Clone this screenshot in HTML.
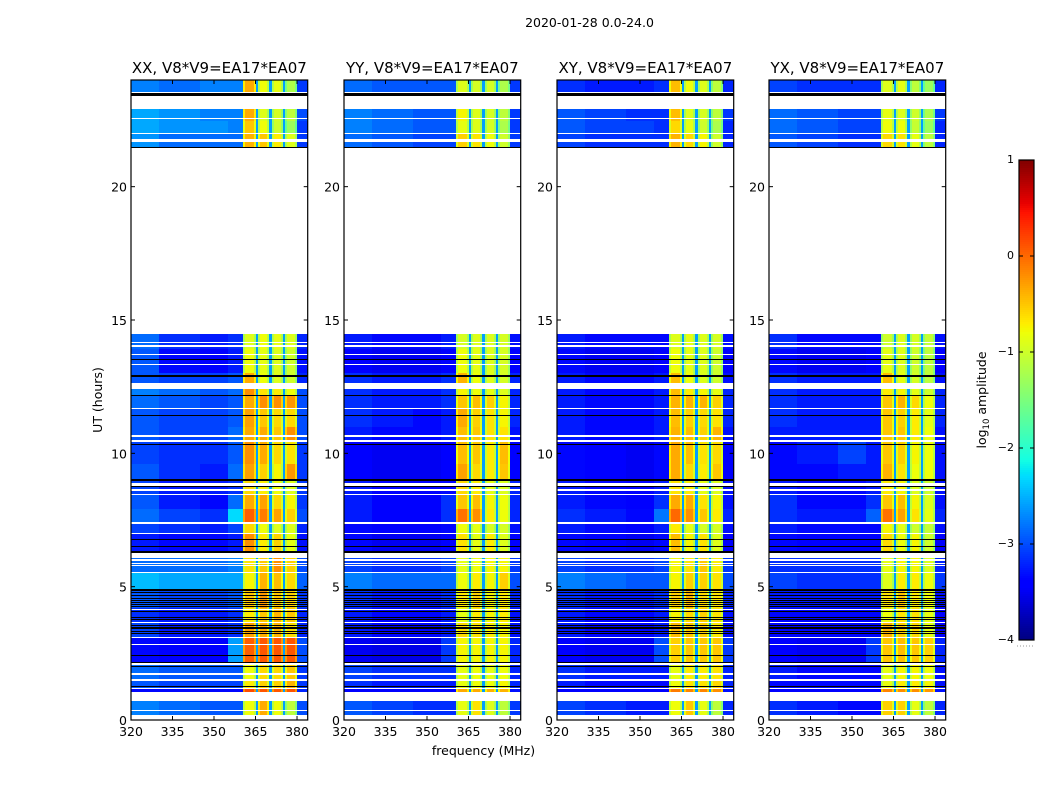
<!DOCTYPE html>
<html lang="en">
<head>
<meta charset="utf-8">
<title>2020-01-28 0.0-24.0</title>
<style>
html,body{margin:0;padding:0;background:#fff;}
svg{display:block;font-family:"DejaVu Sans","Liberation Sans",sans-serif;fill:#000;}
</style>
</head>
<body>
<svg id="chart" width="1050" height="800" viewBox="0 0 1050 800" xmlns="http://www.w3.org/2000/svg">
  <rect width="1050" height="800" fill="#fff"/>
  <text x="589.5" y="27" font-size="12.5" text-anchor="middle">2020-01-28 0.0-24.0</text>
  <text x="483.5" y="755" font-size="12.5" text-anchor="middle">frequency (MHz)</text>
  <text transform="translate(102,400) rotate(-90)" font-size="12.5" text-anchor="middle">UT (hours)</text>
  <text transform="translate(986,400) rotate(-90)" font-size="12.5" text-anchor="middle">log<tspan font-size="8.5" dy="3">10</tspan><tspan dy="-3"> amplitude</tspan></text>
  <g id="panels"></g>
  <g id="colorbar"></g>
</svg>
<script>
// ---- chart data (UT in hours, frequency in MHz, values are log10 amplitude) ----
const panelTitles = ["XX, V8*V9=EA17*EA07", "YY, V8*V9=EA17*EA07", "XY, V8*V9=EA17*EA07", "YX, V8*V9=EA17*EA07"];
const xTickLabels = [320, 335, 350, 365, 380];
const yTickLabels = [0, 5, 10, 15, 20];
const colorTickLabels = [-4, -3, -2, -1, 0, 1];

const lowFreqEdges = [320, 330, 345, 355, 360.5];
const windowStart = [360.5, 365.9, 370.8, 375.7];
const windowEnd = [365.1, 370, 374.9, 380];
const rightFreqEnd = 384;
const gapValue = -2.6;
const windowEdgeDrop = 0.35;

const rowStart = [23.4, 22.47, 21.96, 21.45, 13.9, 13.0, 12.6, 12.15, 11.67, 11.0, 10.5, 9.6, 9.0, 8.42, 7.9, 7.44, 7.0, 6.28, 5.5, 4.9, 4.2, 3.65, 3.06, 2.05, 1.5, 1.2, 1.05, 0.19];
const rowEnd = [24, 22.93, 22.47, 21.96, 14.48, 13.9, 13.0, 12.41, 12.15, 11.67, 11.0, 10.5, 9.6, 9.0, 8.42, 7.9, 7.44, 7.0, 6.09, 5.5, 4.9, 4.2, 3.65, 3.06, 2.05, 1.5, 1.2, 0.71];

// each row: four low-frequency columns, four spectral windows, right edge
const xxRows = [
[-2.75,-2.85,-2.75,-2.75,-.35,-.8,-.85,-1.2,-3.1],
[-2.55,-2.65,-2.75,-2.75,-.35,-.9,-.95,-1.1,-3],
[-2.55,-2.65,-2.65,-2.75,-.5,-.8,-1,-1.3,-3.1],
[-2.65,-2.85,-2.85,-2.85,-.4,-.5,-.7,-.9,-3.1],
[-2.85,-3.15,-3.25,-3.15,-.9,-.8,-.85,-.9,-3.2],
[-2.95,-3.35,-3.45,-3.25,-.8,-.85,-.9,-1,-3.3],
[-2.95,-3.05,-3.05,-2.95,-.35,-.8,-.9,-1,-3.2],
[-2.75,-2.85,-2.95,-2.85,-.2,-.65,-.7,-.8,-3],
[-2.85,-2.95,-3.05,-2.95,-.35,-.2,-.2,-.25,-3],
[-2.95,-3.05,-3.05,-2.95,-.3,-.5,-.6,-.6,-3],
[-2.95,-3.05,-3.05,-2.85,-.35,-.35,-.5,-.2,-3],
[-3.05,-3.15,-3.15,-2.95,-.2,-.35,-.6,-.65,-3.1],
[-2.95,-3.15,-3.25,-2.85,-.3,-.55,-.75,-.25,-3.1],
[-3.05,-3.25,-3.25,-3.15,-.6,-.7,-.8,-.9,-3.1],
[-2.95,-3.25,-3.35,-2.85,-.35,-.3,-.6,-.75,-3.1],
[-2.85,-3.05,-3.15,-2.3,.05,-.1,-.3,-.55,-3],
[-3.05,-3.15,-3.25,-3.05,-.6,-.8,-.9,-.9,-3.2],
[-3.25,-3.35,-3.35,-3.25,-.2,-.7,-.55,-.85,-3.3],
[-2.85,-2.85,-2.85,-2.75,-.65,-.5,-.2,-.55,-3],
[-2.45,-2.55,-2.55,-2.55,-.75,-.4,-.45,-.6,-2.9],
[-2.95,-3.05,-3.05,-2.95,-.5,-.25,-.5,-.55,-3.1],
[-3.15,-3.25,-3.25,-3.15,-.7,-.5,-.4,-.5,-3.2],
[-3.05,-3.25,-3.25,-3.15,-.3,-.35,-.4,-.6,-3.2],
[-3.35,-3.45,-3.45,-2.6,.05,.1,.1,.1,-3],
[-2.85,-2.95,-2.95,-2.95,-.8,-.6,-.6,-.5,-3.1],
[-2.95,-3.05,-3.05,-3.05,-.7,-.55,-.55,-.4,-3.1],
[-3.35,-3.35,-3.35,-3.35,.15,.1,.1,.1,-3.2],
[-2.75,-2.85,-2.95,-2.95,-.8,-.35,-.8,-1.1,-3]
];
const yyRows = [
[-2.85,-2.95,-2.95,-2.95,-.9,-.95,-.95,-1.2,-3.1],
[-2.75,-2.85,-2.95,-2.95,-.75,-.9,-.95,-1.1,-3.1],
[-2.75,-2.85,-2.95,-2.95,-.85,-.9,-.95,-1.2,-3.1],
[-2.85,-2.95,-3.05,-3.05,-.55,-.65,-.8,-1,-3.1],
[-3.25,-3.35,-3.35,-3.25,-.95,-.9,-.9,-.95,-3.3],
[-3.45,-3.5,-3.5,-3.45,-.8,-.85,-.9,-.95,-3.4],
[-3.15,-3.25,-3.25,-3.15,-.4,-.8,-.9,-.95,-3.2],
[-3.15,-3.25,-3.25,-3.15,-.75,-.8,-.85,-.9,-3.2],
[-3.15,-3.25,-3.25,-3.15,-.5,-.45,-.55,-.75,-3.2],
[-3.15,-3.25,-3.35,-3.25,-.35,-.55,-.65,-.75,-3.2],
[-3.25,-3.35,-3.35,-3.25,-.45,-.5,-.65,-.65,-3.3],
[-3.45,-3.5,-3.5,-3.45,-.45,-.5,-.7,-.45,-3.4],
[-3.45,-3.5,-3.5,-3.45,-.3,-.6,-.7,-.5,-3.4],
[-3.25,-3.45,-3.45,-3.35,-.6,-.7,-.85,-.9,-3.2],
[-3.25,-3.45,-3.45,-3.15,-.5,-.45,-.75,-.8,-3.2],
[-3.25,-3.45,-3.45,-3.15,-.05,-.2,-.7,-.8,-3.2],
[-3.35,-3.45,-3.45,-3.35,-.8,-.85,-.95,-.95,-3.3],
[-3.35,-3.5,-3.5,-3.45,-.65,-.85,-.7,-.9,-3.4],
[-3.05,-3.15,-3.15,-3.05,-.85,-.8,-.75,-.75,-3.1],
[-2.75,-2.85,-2.85,-2.85,-.8,-.7,-.75,-.55,-3],
[-3.15,-3.25,-3.25,-3.15,-.7,-.55,-.75,-.7,-3.2],
[-3.25,-3.35,-3.35,-3.25,-.85,-.7,-.75,-.7,-3.3],
[-3.25,-3.35,-3.35,-3.25,-.6,-.65,-.7,-.75,-3.3],
[-3.5,-3.55,-3.55,-3.1,-.75,-.75,-.75,-.75,-3.2],
[-3.05,-3.15,-3.15,-3.15,-.85,-.8,-.85,-.8,-3.2],
[-3.15,-3.25,-3.25,-3.25,-.85,-.8,-.8,-.75,-3.2],
[-3.45,-3.45,-3.45,-3.45,-.35,-.35,-.4,-.4,-3.3],
[-2.95,-3.05,-3.15,-3.15,-.85,-.65,-.9,-1.1,-3.1]
];
const xyRows = [
[-3.15,-3.25,-3.25,-3.15,-.45,-.8,-.9,-1.1,-3.2],
[-2.95,-3.05,-3.15,-3.15,-.45,-.9,-.95,-1.1,-3.1],
[-2.95,-3.05,-3.05,-3.15,-.6,-.85,-1,-1.2,-3.2],
[-3.05,-3.15,-3.15,-3.15,-.4,-.6,-.75,-1,-3.2],
[-3.25,-3.35,-3.35,-3.35,-.9,-.85,-.9,-.95,-3.3],
[-3.35,-3.5,-3.5,-3.45,-.8,-.85,-.9,-1,-3.4],
[-3.25,-3.35,-3.35,-3.25,-.45,-.8,-.9,-1,-3.3],
[-3.25,-3.35,-3.35,-3.25,-.45,-.7,-.75,-.85,-3.2],
[-3.25,-3.35,-3.35,-3.25,-.4,-.4,-.4,-.55,-3.2],
[-3.25,-3.35,-3.35,-3.25,-.45,-.55,-.6,-.65,-3.2],
[-3.25,-3.35,-3.35,-3.25,-.4,-.45,-.55,-.4,-3.3],
[-3.35,-3.45,-3.5,-3.35,-.35,-.45,-.65,-.6,-3.4],
[-3.35,-3.45,-3.5,-3.35,-.35,-.6,-.7,-.5,-3.4],
[-3.25,-3.35,-3.45,-3.25,-.65,-.7,-.85,-.9,-3.3],
[-3.25,-3.35,-3.45,-3.15,-.35,-.35,-.65,-.75,-3.3],
[-3.15,-3.25,-3.35,-2.8,0,-.2,-.5,-.7,-3.2],
[-3.25,-3.35,-3.45,-3.25,-.7,-.85,-.95,-.95,-3.3],
[-3.35,-3.45,-3.5,-3.35,-.45,-.75,-.65,-.9,-3.4],
[-3.05,-3.15,-3.15,-3.05,-.75,-.65,-.5,-.7,-3.1],
[-2.75,-2.85,-2.95,-2.95,-.75,-.55,-.55,-.65,-3],
[-3.15,-3.25,-3.25,-3.15,-.55,-.4,-.6,-.65,-3.2],
[-3.25,-3.35,-3.35,-3.25,-.75,-.6,-.55,-.65,-3.3],
[-3.25,-3.35,-3.35,-3.25,-.45,-.5,-.55,-.7,-3.3],
[-3.45,-3.5,-3.5,-3,-.55,-.5,-.5,-.5,-3.1],
[-3.15,-3.25,-3.25,-3.25,-.85,-.7,-.7,-.65,-3.2],
[-3.25,-3.35,-3.35,-3.35,-.8,-.65,-.65,-.6,-3.2],
[-3.45,-3.45,-3.45,-3.45,-.1,-.15,-.15,-.2,-3.3],
[-3.05,-3.15,-3.25,-3.25,-.8,-.5,-.85,-1.1,-3.2]
];
const yxRows = [
[-3.05,-3.15,-3.15,-3.15,-.9,-.85,-1.1,-1.3,-3.2],
[-2.85,-2.95,-3.05,-3.05,-.85,-.9,-1,-1.2,-3.1],
[-2.85,-2.95,-3.05,-3.05,-.8,-.8,-1.05,-1.3,-3.2],
[-2.95,-3.05,-3.15,-3.15,-.6,-.65,-.85,-1.1,-3.2],
[-3.15,-3.35,-3.35,-3.35,-1,-.9,-.95,-1.05,-3.3],
[-3.35,-3.5,-3.5,-3.45,-.85,-.9,-1,-1.1,-3.4],
[-3.15,-3.25,-3.25,-3.25,-.45,-.85,-.95,-1.1,-3.3],
[-3.15,-3.25,-3.25,-3.25,-.7,-.75,-.85,-1,-3.2],
[-3.15,-3.25,-3.25,-3.25,-.5,-.4,-.6,-.8,-3.2],
[-3.15,-3.25,-3.25,-3.25,-.5,-.55,-.7,-.85,-3.2],
[-3.25,-3.25,-3.25,-3.25,-.5,-.5,-.7,-.8,-3.3],
[-3.35,-3.25,-3.05,-3.25,-.5,-.55,-.75,-.8,-3.3],
[-3.35,-3.35,-3.25,-3.25,-.4,-.65,-.8,-.8,-3.3],
[-3.25,-3.35,-3.35,-3.25,-.7,-.75,-.9,-1,-3.3],
[-3.15,-3.35,-3.35,-3.15,-.5,-.45,-.75,-.9,-3.3],
[-3.15,-3.25,-3.25,-2.9,-.05,-.3,-.65,-.85,-3.2],
[-3.25,-3.35,-3.35,-3.35,-.75,-.85,-1,-1.05,-3.3],
[-3.35,-3.45,-3.45,-3.45,-.6,-.8,-.75,-1,-3.4],
[-3.15,-3.15,-3.15,-3.15,-.85,-.75,-.75,-.9,-3.2],
[-3.05,-3.15,-3.15,-3.15,-.9,-.7,-.7,-.8,-3.1],
[-3.25,-3.25,-3.25,-3.25,-.65,-.5,-.7,-.8,-3.3],
[-3.35,-3.35,-3.35,-3.35,-.8,-.65,-.65,-.85,-3.4],
[-3.35,-3.35,-3.35,-3.35,-.4,-.55,-.6,-.85,-3.4],
[-3.45,-3.5,-3.5,-3.1,-.5,-.45,-.5,-.55,-3.2],
[-3.25,-3.35,-3.35,-3.35,-.85,-.75,-.75,-.8,-3.3],
[-3.35,-3.35,-3.35,-3.35,-.85,-.7,-.7,-.75,-3.3],
[-3.45,-3.45,-3.45,-3.45,-.15,-.2,-.2,-.25,-3.3],
[-3.15,-3.25,-3.35,-3.35,-.55,-.55,-.85,-1.1,-3.2]
];

// times with no data (white)
const gapStart = [23.52,22.52,21.96,21.72,21.66,14.48,14.14,14.0,13.69,13.31,12.41,11.67,10.63,10.43,8.79,8.58,8.42,7.34,6.97,6.09,5.97,5.84,5.76,5.5,4.12,3.63,3.06,2.81,2.06,1.7,1.46,1.16,0.71,0.34,0];
const gapEnd = [23.56,22.57,22.01,21.77,21.7,21.45,14.18,14.06,13.73,13.35,12.62,11.7,10.67,10.5,8.9,8.67,8.49,7.44,7.01,6.28,6.03,5.88,5.8,5.54,4.18,3.68,3.13,2.85,2.13,1.75,1.53,1.2,1.05,0.38,0.19];
// heavily flagged times (black)
const flagStart = [23.41,21.45,13.5,12.87,12.15,11.42,10.31,8.96,8.74,6.75,6.48,6.28,4.85,4.775,4.64,4.55,4.475,4.4,4.31,4.24,4.05,3.825,3.75,3.525,3.46,3.41,3.32,3.24,2.4,2.13,1.97,1.24];
const flagEnd = [23.5,21.49,13.53,12.94,12.18,11.45,10.35,9.04,8.79,6.79,6.53,6.34,4.9,4.8,4.68,4.575,4.5,4.425,4.35,4.275,4.09,3.86,3.79,3.56,3.5,3.45,3.35,3.27,2.44,2.17,2.01,1.28];

// ---- axis geometry and scales ----
const panelLeft = [131, 344, 557, 769];
const panelWidth = 176.7;
const plotTop = 80, plotBottom = 720;
const utMax = 24, freqMin = 320, pxPerMHz = 2.767;
const cbLeft = 1019, cbWidth = 15, cbTop = 160, cbBottom = 640;
const cbMin = -4, cbMax = 1;

const SVGNS = "http://www.w3.org/2000/svg";
const panelsRoot = document.getElementById("panels");
const cbRoot = document.getElementById("colorbar");

function xScale(freq, left) { return left + (freq - freqMin) * pxPerMHz; }
function yScale(ut) { return plotBottom - (ut / utMax) * (plotBottom - plotTop); }
function cbScale(v) { return cbBottom - ((v - cbMin) / (cbMax - cbMin)) * (cbBottom - cbTop); }

function lerpStops(t, stops) {
  for (let i = 1; i < stops.length; i++) {
    if (t <= stops[i][0]) {
      const a = stops[i - 1], b = stops[i];
      return a[1] + (b[1] - a[1]) * (t - a[0]) / (b[0] - a[0]);
    }
  }
  return stops[stops.length - 1][1];
}
function jet(v) {
  const t = Math.max(0, Math.min(1, (v - cbMin) / (cbMax - cbMin)));
  const r = lerpStops(t, [[0, 0], [.35, 0], [.66, 1], [.89, 1], [1, .5]]);
  const g = lerpStops(t, [[0, 0], [.125, 0], [.375, 1], [.64, 1], [.91, 0], [1, 0]]);
  const b = lerpStops(t, [[0, .5], [.11, 1], [.34, 1], [.65, 0], [1, 0]]);
  return "rgb(" + Math.round(r * 255) + "," + Math.round(g * 255) + "," + Math.round(b * 255) + ")";
}

function bandRect(parent, x0, x1, y0, y1, fill) {
  const el = document.createElementNS(SVGNS, "rect");
  const top = Math.round(y0), bottom = Math.round(y1);
  const left = Math.round(x0), right = Math.round(x1);
  el.setAttribute("x", left);
  el.setAttribute("y", top);
  el.setAttribute("width", Math.max(1, right - left));
  el.setAttribute("height", Math.max(1, bottom - top));
  el.setAttribute("fill", fill);
  el.setAttribute("shape-rendering", "crispEdges");
  parent.appendChild(el);
  return el;
}
function tickLine(parent, x1, y1, x2, y2, width) {
  const el = document.createElementNS(SVGNS, "line");
  el.setAttribute("x1", x1);
  el.setAttribute("y1", y1);
  el.setAttribute("x2", x2);
  el.setAttribute("y2", y2);
  el.setAttribute("stroke", "#000");
  el.setAttribute("stroke-width", width || 1);
  parent.appendChild(el);
  return el;
}
function label(parent, x, y, str, size, anchor) {
  const el = document.createElementNS(SVGNS, "text");
  el.setAttribute("x", x);
  el.setAttribute("y", y);
  el.setAttribute("font-size", size);
  el.setAttribute("text-anchor", anchor);
  el.textContent = str;
  parent.appendChild(el);
  return el;
}

function drawPanel(index, rows) {
  const left = panelLeft[index];
  const right = left + panelWidth;
  const g = document.createElementNS(SVGNS, "g");
  
  
  panelsRoot.appendChild(g);

  rows.forEach(function (vals, r) {
    const yTop = yScale(rowEnd[r]);
    const yBot = yScale(rowStart[r]);
    for (let c = 0; c < lowFreqEdges.length - 1; c++) {
      const cell = bandRect(g, xScale(lowFreqEdges[c], left), xScale(lowFreqEdges[c + 1], left), yTop, yBot, jet(vals[c]));
      
      
    }
    for (let w = 0; w < windowStart.length; w++) {
      const v = vals[4 + w];
      const x0 = xScale(windowStart[w], left), x1 = xScale(windowEnd[w], left);
      const cell = bandRect(g, x0, x1, yTop, yBot, jet(v));
      
      
      const edgeA = bandRect(g, x0, x0 + 2, yTop, yBot, jet(v - windowEdgeDrop));
      
      
      const edgeB = bandRect(g, x1 - 2, x1, yTop, yBot, jet(v - windowEdgeDrop));
      
      
      if (w < windowStart.length - 1) {
        const gap = bandRect(g, x1, xScale(windowStart[w + 1], left), yTop, yBot, jet(gapValue));
        
        
      }
    }
    const lastFreq = windowEnd[windowEnd.length - 1];
    const rightCell = bandRect(g, xScale(lastFreq, left), xScale(rightFreqEnd, left), yTop, yBot, jet(vals[8]));
    
    
  });

  gapStart.forEach(function (s, i) {
    const gapEl = bandRect(g, left, right, yScale(gapEnd[i]), yScale(s), "#fff");
    
    
  });
  flagStart.forEach(function (s, i) {
    const flagEl = bandRect(g, left, right, yScale(flagEnd[i]), yScale(s), "#000");
    
    
  });

  const spine = document.createElementNS(SVGNS, "rect");
  spine.setAttribute("x", left);
  spine.setAttribute("y", plotTop);
  spine.setAttribute("width", panelWidth);
  spine.setAttribute("height", plotBottom - plotTop);
  spine.setAttribute("fill", "none");
  spine.setAttribute("stroke", "#000");
  spine.setAttribute("stroke-width", "1.2");
  
  
  g.appendChild(spine);

  xTickLabels.forEach(function (f) {
    const x = xScale(f, left);
    const tickB = tickLine(g, x, plotBottom, x, plotBottom - 4);
    
    
    const tickT = tickLine(g, x, plotTop, x, plotTop + 4);
    
    
    const t = label(g, x, 736, String(f), 12.5, "middle");
    
    
  });
  yTickLabels.forEach(function (u) {
    const y = yScale(u);
    const tickL = tickLine(g, left, y, left + 4, y);
    
    
    const tickR = tickLine(g, right, y, right - 4, y);
    
    
    const t = label(g, left - 4, y + 5, String(u), 12.5, "end");
    
    
  });
  const title = label(g, left + panelWidth / 2, 73, panelTitles[index], 15, "middle");
  
  
}

[xxRows, yyRows, xyRows, yxRows].forEach(function (rows, i) { drawPanel(i, rows); });

function drawColorbar() {
  for (let p = cbTop; p < cbBottom; p += 2) {
    const v = cbMax - ((p + 1 - cbTop) / (cbBottom - cbTop)) * (cbMax - cbMin);
    const strip = bandRect(cbRoot, cbLeft, cbLeft + cbWidth, p, p + 2, jet(v));
    
    
  }
  const frame = document.createElementNS(SVGNS, "rect");
  frame.setAttribute("x", cbLeft);
  frame.setAttribute("y", cbTop);
  frame.setAttribute("width", cbWidth);
  frame.setAttribute("height", cbBottom - cbTop);
  frame.setAttribute("fill", "none");
  frame.setAttribute("stroke", "#000");
  frame.setAttribute("stroke-width", "1.2");
  
  
  cbRoot.appendChild(frame);

  colorTickLabels.forEach(function (v) {
    const y = cbScale(v);
    const a = tickLine(cbRoot, cbLeft, y, cbLeft + 4, y);
    
    
    const b = tickLine(cbRoot, cbLeft + cbWidth, y, cbLeft + cbWidth - 4, y);
    
    
    const t = label(cbRoot, 1014, y + 3, String(v).replace("-", "\u2212"), 11, "end");
    
    
  });
  const dots = tickLine(cbRoot, 1017, 646, 1035, 646, 1);
  dots.setAttribute("stroke", "#999");
  dots.setAttribute("stroke-dasharray", "1 2");
  
  
}
drawColorbar();
</script>
</body>
</html>
